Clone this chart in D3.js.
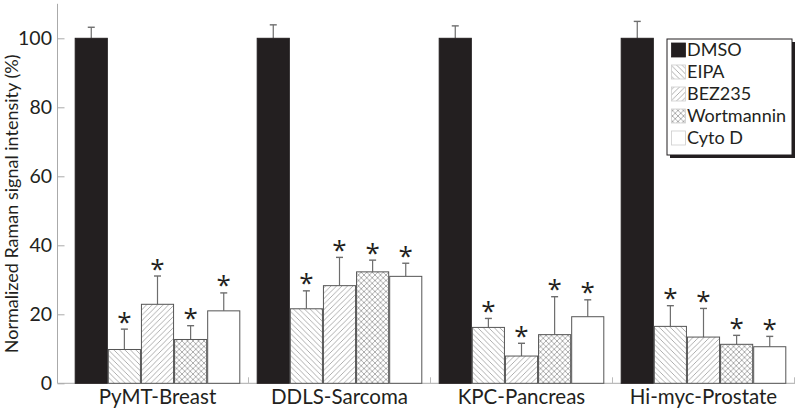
<!DOCTYPE html>
<html><head><meta charset="utf-8">
<script src="https://cdn.jsdelivr.net/npm/d3@7"></script>
<style>body{margin:0;background:#fff}svg{display:block}</style>
</head><body>
<svg id="c" width="800" height="412"></svg>
<script>
const categories = ["PyMT-Breast","DDLS-Sarcoma","KPC-Pancreas","Hi-myc-Prostate"];
const treatments = ["DMSO","EIPA","BEZ235","Wortmannin","Cyto D"];
const DMSO       = [100, 100, 100, 100];
const EIPA       = [9.8, 21.6, 16.2, 16.5];
const BEZ235     = [22.9, 28.3, 7.9, 13.4];
const Wortmannin = [12.7, 32.3, 14.1, 11.3];
const CytoD      = [21.0, 31.0, 19.3, 10.6];
const DMSO_err       = [3.2, 3.9, 3.6, 4.9];
const EIPA_err       = [5.9, 5.2, 2.6, 6.0];
const BEZ235_err     = [8.2, 8.2, 3.7, 8.3];
const Wortmannin_err = [4.0, 3.4, 11.0, 2.6];
const CytoD_err      = [5.2, 3.8, 4.9, 3.0];
const significant = [false, true, true, true, true];
const yTicks = [0,20,40,60,80,100];

const values = [DMSO, EIPA, BEZ235, Wortmannin, CytoD];
const errs = [DMSO_err, EIPA_err, BEZ235_err, Wortmannin_err, CytoD_err];

const svg = d3.select("#c");
const font = "Lato, 'Open Sans', sans-serif";

// patterns
const defs = svg.append("defs");
function hatch(id, paths, size){
  const p = defs.append("pattern").attr("id", id).attr("patternUnits","userSpaceOnUse")
    .attr("width", size).attr("height", size);
  p.append("rect").attr("width", size).attr("height", size).attr("fill","#fff");
  paths.forEach(d => p.append("path").attr("d", d).attr("stroke","#9a9a9a").attr("stroke-width",0.8).attr("fill","none"));
}
const s = 5.5;
hatch("pEIPA", [`M0,0 L${s},${s} M${-s},0 L${s},${2*s} M0,${-s} L${2*s},${s}`], s);
hatch("pBEZ", [`M0,${s} L${s},0 M${-s},${s} L${s},${-s} M0,${2*s} L${2*s},0`], s);
hatch("pWort", [`M0,0 L${s},${s} M${-s},0 L${s},${2*s} M0,${-s} L${2*s},${s}`, `M0,${s} L${s},0 M${-s},${s} L${s},${-s} M0,${2*s} L${2*s},0`], s);
const fills = ["#231f20", "url(#pEIPA)", "url(#pBEZ)", "url(#pWort)", "#fff"];

const x0 = d3.scaleBand().domain(categories).range([66.5, 794.5]).paddingInner(0).paddingOuter(0);
const x1 = d3.scaleBand().domain(treatments).range([8.2, 182-8.2]);
const y = d3.scaleLinear().domain([0, 110]).range([383.3, 3.8]);

// axes
const gy = svg.append("g").attr("transform","translate(57.5,0)")
  .call(d3.axisLeft(y).tickValues(yTicks).tickSize(-7).tickPadding(5.5).tickFormat(d3.format("d")));
gy.select(".domain").attr("stroke","#aaa").attr("d", `M0,${y(110)}V${y(0)}`);
gy.selectAll(".tick line").attr("stroke","#aaa");
gy.selectAll("text").attr("font-family", font).attr("font-size", 19.5).attr("fill","#231f20");

const gx = svg.append("g").attr("transform",`translate(0,${y(0)})`);
gx.append("line").attr("x1",57.5).attr("x2",795).attr("stroke","#aaa").attr("stroke-width",1);
categories.forEach(c=>{
  gx.append("line").attr("x1",x0(c)+x0.bandwidth()).attr("x2",x0(c)+x0.bandwidth())
    .attr("y1",0).attr("y2",-6).attr("stroke","#bbb");
  gx.append("text").attr("x", x0(c)+x0.bandwidth()/2).attr("y", 20.5)
    .attr("text-anchor","middle").attr("font-family",font).attr("font-size",20.5).attr("fill","#231f20").text(c);
});

// bars
categories.forEach((c, ci)=>{
  const g = svg.append("g").attr("transform",`translate(${x0(c)},0)`);
  treatments.forEach((t, ti)=>{
    const v = values[ti][ci], e = errs[ti][ci];
    const bx = x1(t), bw = x1.bandwidth();
    const cx = bx + bw/2;
    // error bar
    g.append("line").attr("x1",cx).attr("x2",cx).attr("y1",y(v)).attr("y2",y(v+e)).attr("stroke","#6d6d6d").attr("stroke-width",1.2);
    g.append("line").attr("x1",cx-3.5).attr("x2",cx+3.5).attr("y1",y(v+e)).attr("y2",y(v+e)).attr("stroke","#6d6d6d").attr("stroke-width",1.4);
    g.append("rect").attr("x",bx+0.5).attr("y",y(v)).attr("width",bw-1).attr("height",y(0)-y(v))
      .attr("fill",fills[ti]).attr("stroke", ti===0?"#231f20":"#555").attr("stroke-width",1);
    if (significant[ti]) {
      g.append("text").attr("x",cx).attr("y",y(v+e)+1.5).attr("text-anchor","middle")
        .attr("font-family","'Open Sans', sans-serif").attr("font-size",26).attr("fill","#231f20").text("*");
    }
  });
});

// y label
svg.append("text").attr("transform",`translate(18,${y(52)}) rotate(-90)`).attr("text-anchor","middle")
  .attr("font-family",font).attr("font-size",18).attr("fill","#231f20").text("Normalized Raman signal intensity (%)");

// legend
const lg = svg.append("g").attr("transform","translate(667,39)");
lg.append("rect").attr("x",3).attr("y",3).attr("width",125).attr("height",116).attr("fill","#231f20");
lg.append("rect").attr("x",0).attr("y",0).attr("width",125).attr("height",116).attr("fill","#fff").attr("stroke","#231f20").attr("stroke-width",1);
treatments.forEach((t, ti)=>{
  const cy = 11 + ti*22;
  lg.append("rect").attr("x",4.5).attr("y",cy-7).attr("width",14).attr("height",14)
    .attr("fill",fills[ti]).attr("stroke", ti===0?"#231f20":"#ccc").attr("stroke-width",0.8);
  lg.append("text").attr("x",20).attr("y",cy).attr("dy","0.36em").attr("font-family",font).attr("font-size",18).attr("fill","#231f20").text(t);
});
</script>
</body></html>
